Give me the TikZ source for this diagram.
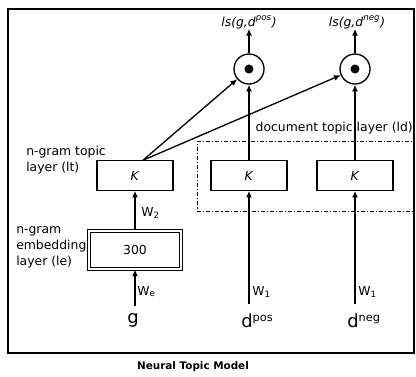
\documentclass[tikz,border=0pt]{standalone}
\usepackage{fontspec}
\setmainfont{DejaVu Sans}
\usetikzlibrary{arrows.meta}

\newcommand{\supsmall}[1]{\raisebox{0.55ex}{\fontsize{8.5}{9}\selectfont #1}}

\begin{document}
\begin{tikzpicture}[x=0.75pt, y=-0.75pt,
    layer/.style={rectangle, draw, line width=0.9pt, minimum width=57pt, minimum height=22pt, inner sep=0pt},
    dotprod/.style={circle, draw, line width=1pt, minimum size=22.5pt, inner sep=0pt},
    arr/.style={-{Latex[length=5pt, width=4.5pt]}, line width=1pt},
    lbl/.style={font=\fontsize{9.3}{12}\selectfont, align=left, inner sep=0pt},
    inp/.style={font=\fontsize{13.5}{16}\selectfont, inner sep=0pt}]
    \useasboundingbox (0, 0) rectangle (416, 376);
    \draw[line width=1.2pt] (8, 9) rectangle (414, 353);

    \node at (135, 175.5) [layer, lbl] (lt) {\textit{K}};
    \node at (249, 175.5) [layer, lbl] (ld1) {\textit{K}};
    \node at (355, 175.5) [layer, lbl] (ld2) {\textit{K}};
    \node at (135, 250) [layer, lbl, double, double distance=1.6pt, line width=0.8pt,
        minimum width=69pt, minimum height=28.5pt] (le) {300};

    \node at (249, 69) [dotprod] (c1) {};
    \node at (355, 69) [dotprod] (c2) {};
    \fill (c1) circle (3.4pt);
    \fill (c2) circle (3.4pt);

    % outputs
    \node at (249, 26) [lbl, anchor=base] (s1) {\textit{ls(g,d\textsuperscript{pos})}};
    \node at (357, 26) [lbl, anchor=base] (s2) {\textit{ls(g,d\textsuperscript{neg})}};

    % inputs
    \node at (133, 323) [inp, anchor=base] (g) {g};
    \node at (241, 327) [inp, anchor=base west] (dpos) {d\supsmall{pos}};
    \node at (347, 327) [inp, anchor=base west] (dneg) {d\supsmall{neg}};

    % dash-dot box round the document layers
    \node at (197, 141) [draw, line width=0.5pt, dash pattern=on 3pt off 1.5pt on 0.8pt off 1.5pt,
        anchor=north west, minimum width=162pt, minimum height=52.5pt] (ldbox) {};

    % layer names
    \node at (26, 146) [lbl, anchor=north west] (ltname) {n-gram topic\\layer (lt)};
    \node at (16, 226) [lbl, anchor=north west] (lename) {n-gram\\embedding\\layer (le)};
    \node at (413, 131) [lbl, anchor=base east] (ldname) {document topic layer (ld)};

    % weights
    \node at (141, 216) [lbl, anchor=base west] (w2) {W\textsubscript{2}};
    \node at (137, 295) [lbl, anchor=base west] (we) {W\textsubscript{e}};
    \node at (252, 295) [lbl, anchor=base west] (w1a) {W\textsubscript{1}};
    \node at (358, 295) [lbl, anchor=base west] (w1b) {W\textsubscript{1}};

    \coordinate (fork) at ([xshift=6pt]lt.north);

    \draw[arr] ([yshift=5pt]g.north -| le.south) -- (le.south);
    \draw[arr] (le) -- (lt);
    \draw[arr] ([yshift=7pt]dpos.north -| ld1.south) -- (ld1.south);
    \draw[arr] ([yshift=7pt]dneg.north -| ld2.south) -- (ld2.south);
    \draw[arr] (ld1) -- (c1);
    \draw[arr] (ld2) -- (c2);
    \draw[arr] (fork) -- (c1);
    \draw[arr] (fork) -- (c2);
    \draw[arr] (c1.north) -- (c1.north |- s1.south);
    \draw[arr] (c2.north) -- (c2.north |- s2.south);

    \node at (193, 367) [font=\fontsize{7.8}{9}\selectfont\bfseries] (title) {Neural Topic Model};
\end{tikzpicture}
\end{document}
